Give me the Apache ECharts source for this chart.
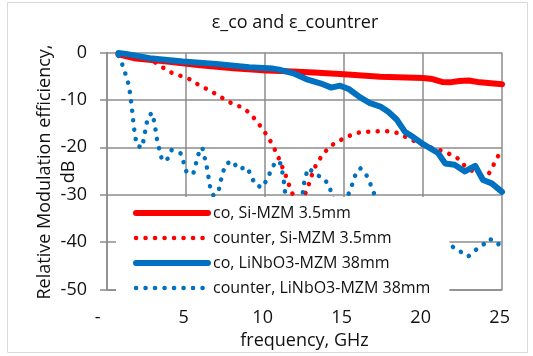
<!DOCTYPE html>
<html>
<head>
<meta charset="utf-8">
<script src="https://cdn.jsdelivr.net/npm/echarts@6/dist/echarts.min.js"></script>
<style>
  html, body { margin: 0; padding: 0; background: #fff; }
  #chart { width: 533px; height: 356px; }
</style>
</head>
<body>
<div id="chart"></div>
<script>
const FONT = '"Open Sans", sans-serif';

// co, Si-MZM 3.5mm
const coSiFreq = [0.72, 1.7, 3.8, 5.9, 8.0, 10.1, 11.0, 13.1, 15.0, 17.3, 20.0, 20.6, 21.2, 21.7, 22.3, 22.9, 23.6, 24.3, 25.0];
const coSiDb = [-0.4, -1.2, -1.9, -2.7, -3.3, -3.8, -3.9, -4.2, -4.6, -5.1, -5.4, -5.6, -6.2, -6.3, -6.0, -5.9, -6.3, -6.5, -6.7];

// counter, Si-MZM 3.5mm
const counterSiFreq = [0.72, 1.5, 2.5, 3.0, 3.5, 4.05, 4.64, 5.21, 5.74, 6.31, 6.86, 7.4, 7.93, 8.5, 9.01, 9.45, 9.81, 10.17, 10.46, 10.74, 10.97, 11.22, 11.46, 11.62, 11.9, 12.15, 12.4, 12.68, 12.85, 13.06, 13.31, 13.67, 14.03, 14.54, 15.06, 15.59, 16.16, 16.75, 17.32, 17.87, 18.42, 18.95, 19.47, 20.02, 21.0, 21.47, 21.94, 22.36, 22.68, 23.08, 23.54, 23.84, 24.18, 24.45, 24.7, 25.0];
const counterSiDb = [-0.3, -0.9, -1.5, -2.0, -3.1, -4.2, -4.9, -5.6, -6.7, -7.7, -8.7, -9.8, -10.8, -11.5, -12.7, -14.4, -16.0, -17.7, -19.4, -21.3, -23.1, -25.2, -27.2, -29.1, -30.7, -31.0, -30.6, -28.9, -26.9, -25.0, -23.1, -21.6, -20.0, -18.9, -18.0, -17.2, -16.7, -16.7, -16.6, -16.6, -17.0, -17.9, -18.7, -19.6, -20.5, -21.1, -21.8, -22.7, -24.1, -24.9, -25.8, -25.7, -25.5, -23.8, -22.1, -20.7];

// co, LiNbO3-MZM 38mm
const coLnFreq = [0.72, 1.2, 2.7, 4.8, 6.9, 9.0, 10.5, 11.0, 11.8, 12.6, 13.5, 14.2, 14.75, 15.3, 16.0, 16.65, 17.3, 17.8, 18.35, 18.85, 19.4, 19.9, 20.45, 20.95, 21.4, 22.0, 22.65, 23.3, 23.8, 24.35, 25.0];
const coLnDb = [-0.1, -0.3, -1.2, -1.9, -2.4, -3.1, -3.4, -3.7, -4.4, -5.6, -6.5, -7.4, -7.0, -7.7, -9.4, -10.7, -11.4, -12.5, -14.2, -16.7, -17.9, -19.1, -20.2, -21.2, -23.4, -23.7, -25.1, -23.9, -26.9, -27.6, -29.4];

// counter, LiNbO3-MZM 38mm (part of it sits behind the legend box)
const counterLnFreq = [0.72, 1.03, 1.39, 1.56, 1.69, 1.88, 2.22, 2.45, 2.57, 2.83, 3.0, 3.19, 3.5, 3.84, 4.09, 4.68, 5.04, 5.46, 5.78, 6.03, 6.31, 6.52, 6.73, 7.04, 7.3, 7.53, 7.96, 8.29, 8.86, 9.13, 9.37, 9.83, 10.13, 10.4, 10.68, 10.97, 11.16, 11.29, 11.8, 12.38, 12.43, 12.55, 12.76, 13.2, 13.7, 14.07, 14.22, 14.7, 15.27, 15.49, 15.7, 16.03, 16.44, 16.69, 16.92, 17.5, 18.5, 19.5, 20.5, 21.1, 21.44, 21.71, 22.03, 22.34, 22.61, 22.87, 23.15, 23.4, 23.67, 23.92, 24.2, 24.45, 24.73, 24.92];
const counterLnDb = [-0.7, -3.0, -7.0, -11.2, -15.5, -19.6, -20.1, -16.0, -13.9, -12.7, -14.7, -18.9, -22.9, -22.4, -20.6, -21.3, -25.3, -25.6, -21.5, -20.0, -24.0, -28.2, -30.1, -29.6, -25.6, -23.5, -22.9, -24.6, -24.2, -26.0, -27.9, -28.5, -26.7, -24.8, -22.9, -23.4, -26.2, -30.1, -34.0, -30.05, -28.3, -26.2, -24.4, -25.7, -26.5, -28.1, -30.05, -34.0, -30.0, -28.1, -26.0, -24.4, -26.0, -27.9, -29.9, -35.0, -39.0, -37.0, -38.0, -38.5, -39.2, -40.4, -41.5, -41.9, -42.7, -43.0, -42.2, -41.5, -40.8, -40.3, -39.3, -39.7, -40.0, -41.7];

const seriesNames = ['co, Si-MZM 3.5mm', 'counter, Si-MZM 3.5mm', 'co, LiNbO3-MZM 38mm', 'counter, LiNbO3-MZM 38mm'];
const RED = '#ff0000';
const BLUE = '#0070c0';
const GRID = '#8c8c8c';

function pairs(xs, ys) {
  return xs.map((x, i) => [x, ys[i]]);
}

const solid = (color) => ({ color: color, width: 6, type: 'solid', cap: 'round', join: 'round' });
const dotted = (color) => ({ color: color, width: 4.5, type: [0.1, 9.4], cap: 'round', join: 'round' });
const styles = [solid(RED), dotted(RED), solid(BLUE), dotted(BLUE)];

const chart = echarts.init(document.getElementById('chart'));

chart.setOption({
  animation: false,
  backgroundColor: '#fff',
  title: {
    text: 'ε_co and ε_countrer',
    left: 295,
    top: 14,
    textAlign: 'center',
    padding: 0,
    textStyle: { fontFamily: FONT, fontSize: 18, fontWeight: 'normal', color: '#111' },
  },
  grid: { left: 107, right: 31, top: 52.5, bottom: 66.5, containLabel: false },
  xAxis: {
    type: 'value',
    min: 0,
    max: 25,
    interval: 5,
    name: 'frequency, GHz',
    nameLocation: 'middle',
    nameGap: 42,
    nameTextStyle: { fontFamily: FONT, fontSize: 18, color: '#111' },
    axisLine: { show: true, onZero: false, lineStyle: { color: GRID, width: 1.5 } },
    axisTick: { show: false },
    axisLabel: {
      margin: 19,
      fontFamily: FONT,
      fontSize: 18,
      color: '#111',
      formatter: (v) => (v === 0 ? '-    ' : v + ' '),
    },
    splitLine: { show: true, lineStyle: { color: GRID, width: 1.5 } },
  },
  yAxis: {
    type: 'value',
    min: -50,
    max: 0,
    interval: 10,
    axisLine: { show: true, lineStyle: { color: GRID, width: 1.5 } },
    axisTick: { show: true, inside: false, length: 7, lineStyle: { color: GRID, width: 1.5 } },
    axisLabel: { margin: 20, fontFamily: FONT, fontSize: 18, color: '#111' },
    splitLine: { show: true, lineStyle: { color: GRID, width: 1.5 } },
  },
  legend: {
    orient: 'vertical',
    left: 116,
    top: 197,
    backgroundColor: '#fff',
    padding: [8, 19, 1, 17],
    itemWidth: 72,
    itemHeight: 14,
    itemGap: 9,
    itemStyle: { opacity: 0 },
    textStyle: { fontFamily: FONT, fontSize: 16, color: '#111' },
    data: seriesNames.map((name, i) => ({ name: name, lineStyle: styles[i] })),
  },
  graphic: [
    {
      type: 'rect',
      z: -1,
      shape: { x: 7.5, y: 2.5, width: 520, height: 350 },
      style: { fill: 'none', stroke: '#d9d9d9', lineWidth: 1 },
    },
    {
      type: 'text',
      x: 57,
      y: 172,
      rotation: Math.PI / 2,
      style: {
        text: 'Relative Modulation efficiency,\ndB',
        font: '18px "Open Sans", sans-serif',
        fill: '#111',
        textAlign: 'center',
        textVerticalAlign: 'middle',
        lineHeight: 24,
      },
    },
  ],
  series: [
    { name: seriesNames[0], type: 'line', data: pairs(coSiFreq, coSiDb), symbol: 'none', lineStyle: styles[0], itemStyle: { color: RED } },
    { name: seriesNames[1], type: 'line', data: pairs(counterSiFreq, counterSiDb), symbol: 'none', lineStyle: styles[1], itemStyle: { color: RED } },
    { name: seriesNames[2], type: 'line', data: pairs(coLnFreq, coLnDb), symbol: 'none', lineStyle: styles[2], itemStyle: { color: BLUE } },
    { name: seriesNames[3], type: 'line', data: pairs(counterLnFreq, counterLnDb), symbol: 'none', lineStyle: styles[3], itemStyle: { color: BLUE } },
  ],
});
</script>
</body>
</html>
